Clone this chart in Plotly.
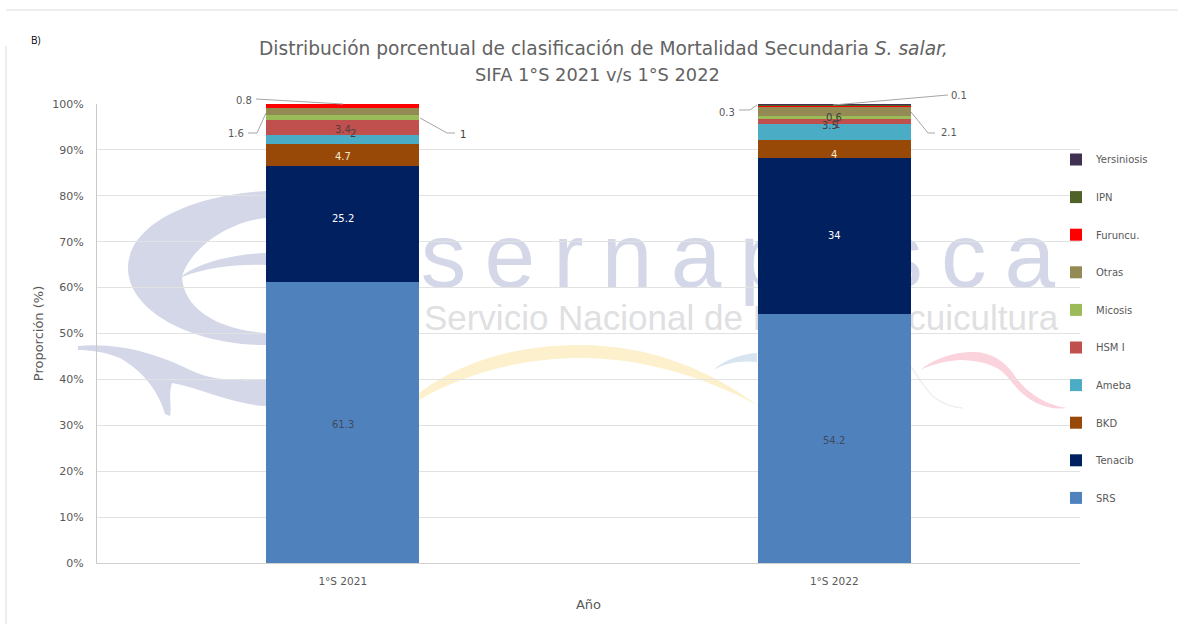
import plotly.graph_objects as go

categories = ["1°S 2021", "1°S 2022"]
series_names = ["SRS", "Tenacib", "BKD", "Ameba", "HSM I", "Micosis", "Otras", "Furuncu.", "IPN", "Yersiniosis"]
srs = [61.3, 54.2]
tenacib = [25.2, 34]
bkd = [4.7, 4]
ameba = [2, 3.5]
hsmi = [3.4, 1]
micosis = [1, 0.6]
otras = [1.6, 2.1]
furuncu = [0.8, 0.2]
ipn = [0, 0.3]
yersiniosis = [0, 0.1]
series_values = [srs, tenacib, bkd, ameba, hsmi, micosis, otras, furuncu, ipn, yersiniosis]
colors = ["#4f81bd", "#002060", "#984807", "#4bacc6", "#c0504d", "#9bbb59", "#948a54", "#ff0000", "#4f6228", "#403152"]

# label styling: per series and per category, pixel offset from the segment centre
label_colors = ["#404a5c", "#ffffff", "#f6e8d2", "#404040", "#5a3a44", "#404040", "#595959", "#595959", "#595959", "#595959"]
offsets_2021 = [(0, 2), (0, -5), (0, 1), (10, -6), (0, 2), (120, 17), (-107, 22), (-99, -5), None, None]
offsets_2022 = [(0, 2), (0, -1), (0, 6), (-4, -6), (3, 3), (0, 0), (115, 21), None, (-107, 7), (125, -9)]
offsets = [offsets_2021, offsets_2022]

L, R, T, B = 97, 1080, 104, 563
W, H = 1178, 624
def px(x): return (x - L) / (R - L)
def py(y): return (B - y) / (B - T)
def path(cmds):
    out = []
    for c in cmds:
        if isinstance(c, str):
            out.append(c)
        else:
            out.append(f"{px(c[0]):.5f},{py(c[1]):.5f}")
    return " ".join(out)

fig = go.Figure()
for i, (name, vals, col) in enumerate(zip(series_names, series_values, colors)):
    fig.add_trace(go.Bar(name=name, x=categories, y=vals, marker=dict(color=col, line=dict(width=0)),
                         legendgroup=name, legendrank=100 - i, hoverinfo="x+y+name"))

annotations = []
for ci, cat in enumerate(categories):
    cum = 0
    for si, vals in enumerate(series_values):
        v = vals[ci]
        off = offsets[ci][si]
        if off is not None and v:
            annotations.append(dict(x=cat, y=cum + v / 2, xref="x", yref="y", text=str(v), showarrow=False,
                                    xshift=off[0], yshift=-off[1],
                                    font=dict(family="DejaVu Sans", size=10, color=label_colors[si])))
        cum += v

annotations += [
    dict(x=px(603), y=py(36), xref="paper", yref="paper", showarrow=False,
         text="Distribución porcentual de clasificación de Mortalidad Secundaria <i>S. salar,</i>",
         font=dict(family="DejaVu Sans", size=18.6, color="#636363")),
    dict(x=px(597), y=py(62), xref="paper", yref="paper", showarrow=False,
         text="SIFA 1°S 2021 v/s 1°S 2022",
         font=dict(family="DejaVu Sans", size=17.8, color="#636363")),
    dict(x=px(29), y=py(31), xref="paper", yref="paper", showarrow=False, text="B)",
         font=dict(family="Open Sans", size=10, color="#000000")),
]

shapes = []
def blob(cmds, color):
    shapes.append(dict(type="path", path=path(cmds), xref="paper", yref="paper", fillcolor=color,
                       line=dict(width=0), layer="below"))
lav = "#d3d7e7"
blob(["M", (266, 191), "C", (190, 195), (128, 225), (128, 268), "C", (128, 310), (190, 345), (266, 345), "L", (266, 333),
      "C", (220, 330), (183, 310), (182, 276), "C", (190, 250), (225, 222), (266, 218), "Z"], lav)
blob(["M", (182, 276), "C", (200, 262), (235, 254), (266, 253), "L", (266, 265), "C", (235, 264), (205, 268), (182, 277), "Z"], lav)
blob(["M", (78, 346), "C", (120, 342), (160, 355), (190, 370), "C", (215, 382), (240, 380), (266, 380), "L", (266, 406),
      "C", (235, 405), (200, 388), (172, 383), "C", (168, 395), (172, 405), (170, 416), "L", (165, 414),
      "C", (160, 395), (145, 372), (120, 358), "C", (105, 352), (90, 350), (78, 350), "Z"], lav)
blob(["M", (419, 393), "C", (470, 355), (530, 345), (580, 345), "C", (650, 345), (710, 370), (757, 405),
      "C", (700, 375), (640, 358), (580, 358), "C", (530, 358), (470, 370), (419, 400), "Z"], "#fdf1cd")
blob(["M", (713, 370), "C", (725, 360), (740, 354), (757, 353), "L", (757, 362), "C", (740, 360), (725, 363), (713, 370), "Z"], "#d8e5f1")
blob(["M", (920, 370), "C", (935, 358), (955, 352), (973, 352), "C", (990, 352), (1003, 360), (1012, 372),
      "C", (1025, 392), (1045, 405), (1067, 408), "C", (1045, 411), (1025, 400), (1010, 380),
      "C", (1000, 366), (985, 361), (960, 360), "C", (945, 361), (930, 365), (920, 370), "Z"], "#fbd3dc")
shapes.append(dict(type="path", path=path(["M", (911, 367), "C", (925, 385), (930, 405), (963, 408)]), xref="paper", yref="paper",
                   line=dict(color="#eef0f3", width=1.5), layer="below"))

def wm_text(text, x0, y0, x1, y1, size, color, family):
    shapes.append(dict(type="rect", x0=px(x0), x1=px(x1), y0=py(y1), y1=py(y0), xref="paper", yref="paper",
                       fillcolor="rgba(0,0,0,0)", line=dict(width=0), layer="below",
                       label=dict(text=text, textposition="middle center",
                                  font=dict(size=size, color=color, family=family))))
wm_text("s\u2009e\u2009r\u2009n\u2009a\u2009p\u2009e\u2009s\u2009c\u2009a", 400, 211, 1076, 281, 91, lav, "Liberation Sans")
wm_text("Servicio Nacional de Pesca y Acuicultura", 400, 296, 1082, 332, 35, "#dfe0e2", "Liberation Sans")

def leader(cmds):
    shapes.append(dict(type="path", path=path(cmds), xref="paper", yref="paper",
                       line=dict(color="#a6a6a6", width=1), layer="above"))
leader(["M", (256, 99), "L", (343, 104)])
leader(["M", (248, 133), "L", (257, 133), "L", (266, 113)])
leader(["M", (420, 118), "L", (447, 133), "L", (455, 133)])
leader(["M", (739, 110), "L", (750, 110), "L", (757, 105)])
leader(["M", (948, 95), "L", (833, 105)])
leader(["M", (911, 112), "L", (928, 133), "L", (935, 133)])

# outer frame lines
shapes.append(dict(type="line", x0=px(6), x1=px(1178), y0=py(10), y1=py(10), xref="paper", yref="paper",
                   line=dict(color="#dddddd", width=1), layer="below"))
shapes.append(dict(type="line", x0=px(6), x1=px(6), y0=py(46), y1=py(624), xref="paper", yref="paper",
                   line=dict(color="#dddddd", width=1), layer="below"))

fig.update_layout(
    width=W, height=H, autosize=False,
    margin=dict(l=L, r=W - R, t=T, b=H - B, pad=0),
    paper_bgcolor="#ffffff", plot_bgcolor="rgba(0,0,0,0)",
    barmode="stack", bargap=0.688,
    font=dict(family="DejaVu Sans", size=11, color="#595959"),
    xaxis=dict(title=dict(text="Año", font=dict(size=13, color="#595959"), standoff=14),
               showgrid=False, showline=True, linecolor="#d0d0d0", ticks="", ticklabelstandoff=8,
               tickfont=dict(size=10.5, color="#595959")),
    yaxis=dict(title=dict(text="Proporción (%)", font=dict(size=13, color="#595959"), standoff=5),
               range=[0, 100], dtick=10, ticksuffix="%", showgrid=True, gridcolor="#e2e2e2", gridwidth=1,
               showline=True, linecolor="#c8c8c8", zeroline=False, ticks="", ticklabelstandoff=10,
               tickfont=dict(size=11, color="#595959")),
    legend=dict(x=px(1056), xanchor="left", y=py(145), yanchor="top", traceorder="grouped",
                tracegroupgap=18.6, font=dict(size=10, color="#595959"), bgcolor="rgba(0,0,0,0)", itemclick=False),
    annotations=annotations, shapes=shapes,
)
fig.write_html("out.html", config=dict(displayModeBar=False),
               post_script="document.body.style.margin='0';document.documentElement.style.overflow='hidden';")
